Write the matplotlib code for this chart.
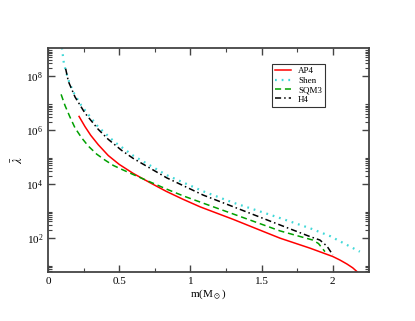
import numpy as np
import matplotlib
matplotlib.use("Agg")
import matplotlib.pyplot as plt
from matplotlib.ticker import (FixedLocator, LogLocator, LogFormatterMathtext,
                               MultipleLocator, NullFormatter)

# curves: mass (M_sun) and log10 of lambda-bar
ap4_m = [0.218, 0.26, 0.30, 0.353, 0.423, 0.50, 0.60, 0.72, 0.83, 0.95,
         1.07, 1.14, 1.30, 1.54, 1.63, 1.84, 2.00, 2.05, 2.10, 2.14, 2.17]
ap4_log = [6.50, 6.12, 5.80, 5.45, 5.05, 4.72, 4.38, 4.03, 3.72, 3.42,
           3.14, 3.00, 2.68, 2.17, 1.98, 1.61, 1.30, 1.17, 1.02, 0.88, 0.74]

shen_m = [0.092, 0.098, 0.112, 0.14, 0.176, 0.234, 0.351, 0.468, 0.597,
          0.834, 1.09, 1.30, 1.60, 1.84, 1.98, 2.19]
shen_log = [9.30, 9.03, 8.45, 7.90, 7.42, 6.90, 6.12, 5.55, 5.05,
            4.32, 3.72, 3.30, 2.78, 2.35, 2.06, 1.48]

sqm3_m = [0.092, 0.119, 0.154, 0.19, 0.237, 0.283, 0.342, 0.40, 0.459,
          0.52, 0.60, 0.716, 0.834, 0.95, 1.09, 1.30, 1.63, 1.86, 1.90, 1.945]
sqm3_log = [7.32, 6.91, 6.48, 6.07, 5.70, 5.40, 5.10, 4.88, 4.68,
            4.53, 4.34, 4.07, 3.80, 3.55, 3.28, 2.88, 2.25, 1.91, 1.78, 1.48]

h4_m = [0.124, 0.143, 0.19, 0.26, 0.353, 0.423, 0.517, 0.599, 0.834, 1.09,
        1.30, 1.63, 1.84, 1.91, 1.96, 2.00]
h4_log = [8.27, 7.80, 7.22, 6.62, 6.02, 5.65, 5.24, 4.94, 4.22, 3.58,
          3.15, 2.47, 2.04, 1.91, 1.68, 1.36]

xticks = [0, 0.5, 1, 1.5, 2]
xticklabels = ["0", "0.5", "1", "1.5", "2"]
yticks = [1e2, 1e4, 1e6, 1e8]

plt.rcParams["font.family"] = ["Liberation Serif", "DejaVu Serif"]
plt.rcParams["mathtext.fontset"] = "stix"

fig = plt.figure(figsize=(4.15, 3.21), dpi=100)
ax = fig.add_axes([0.1157, 0.1526, 0.7733, 0.6979])

ax.semilogy(ap4_m, 10 ** np.array(ap4_log), color="#ff0000", lw=1.1, label="AP4")
ax.semilogy(shen_m, 10 ** np.array(shen_log), color="#40d8d8", lw=1.6,
            ls=(0, (0.8, 2.2)), label="Shen")
ax.semilogy(sqm3_m, 10 ** np.array(sqm3_log), color="#00a000", lw=1.1,
            ls=(0, (4, 2.5)), label="SQM3")
ax.semilogy(h4_m, 10 ** np.array(h4_log), color="black", lw=1.1,
            ls=(0, (4, 2, 1, 2)), label="H4")

ax.set_xlim(0, 2.254)
ax.set_ylim(5.3, 1.1e9)

ax.set_xticks(xticks)
ax.set_xticklabels(xticklabels)
ax.xaxis.set_minor_locator(MultipleLocator(0.25))
ax.yaxis.set_major_locator(FixedLocator(yticks))
ax.yaxis.set_major_formatter(LogFormatterMathtext(base=10))
ax.yaxis.set_minor_locator(LogLocator(base=100, subs=np.arange(2, 10)))
ax.yaxis.set_minor_formatter(NullFormatter())

ax.tick_params(which="both", direction="in", top=True, right=True,
               labelsize=8, color="#444444")
ax.tick_params(which="major", length=5, width=1)
ax.tick_params(which="minor", length=3, width=0.8)
for s in ax.spines.values():
    s.set_linewidth(1.3)
    s.set_color("#444444")

ax.set_xlabel(r"m(M$_\odot$)", fontsize=8, labelpad=1)
ax.set_ylabel(r"$\bar{\lambda}$", fontsize=9, labelpad=0)

leg = ax.legend(loc="upper left", bbox_to_anchor=(0.699, 0.929), fontsize=6.5,
                frameon=True, fancybox=False, handlelength=1.7,
                borderpad=0.35, labelspacing=0.12, handletextpad=0.8,
                borderaxespad=0)
leg.get_frame().set_edgecolor("black")
leg.get_frame().set_linewidth(0.8)

fig.savefig("out.png", dpi=100)
